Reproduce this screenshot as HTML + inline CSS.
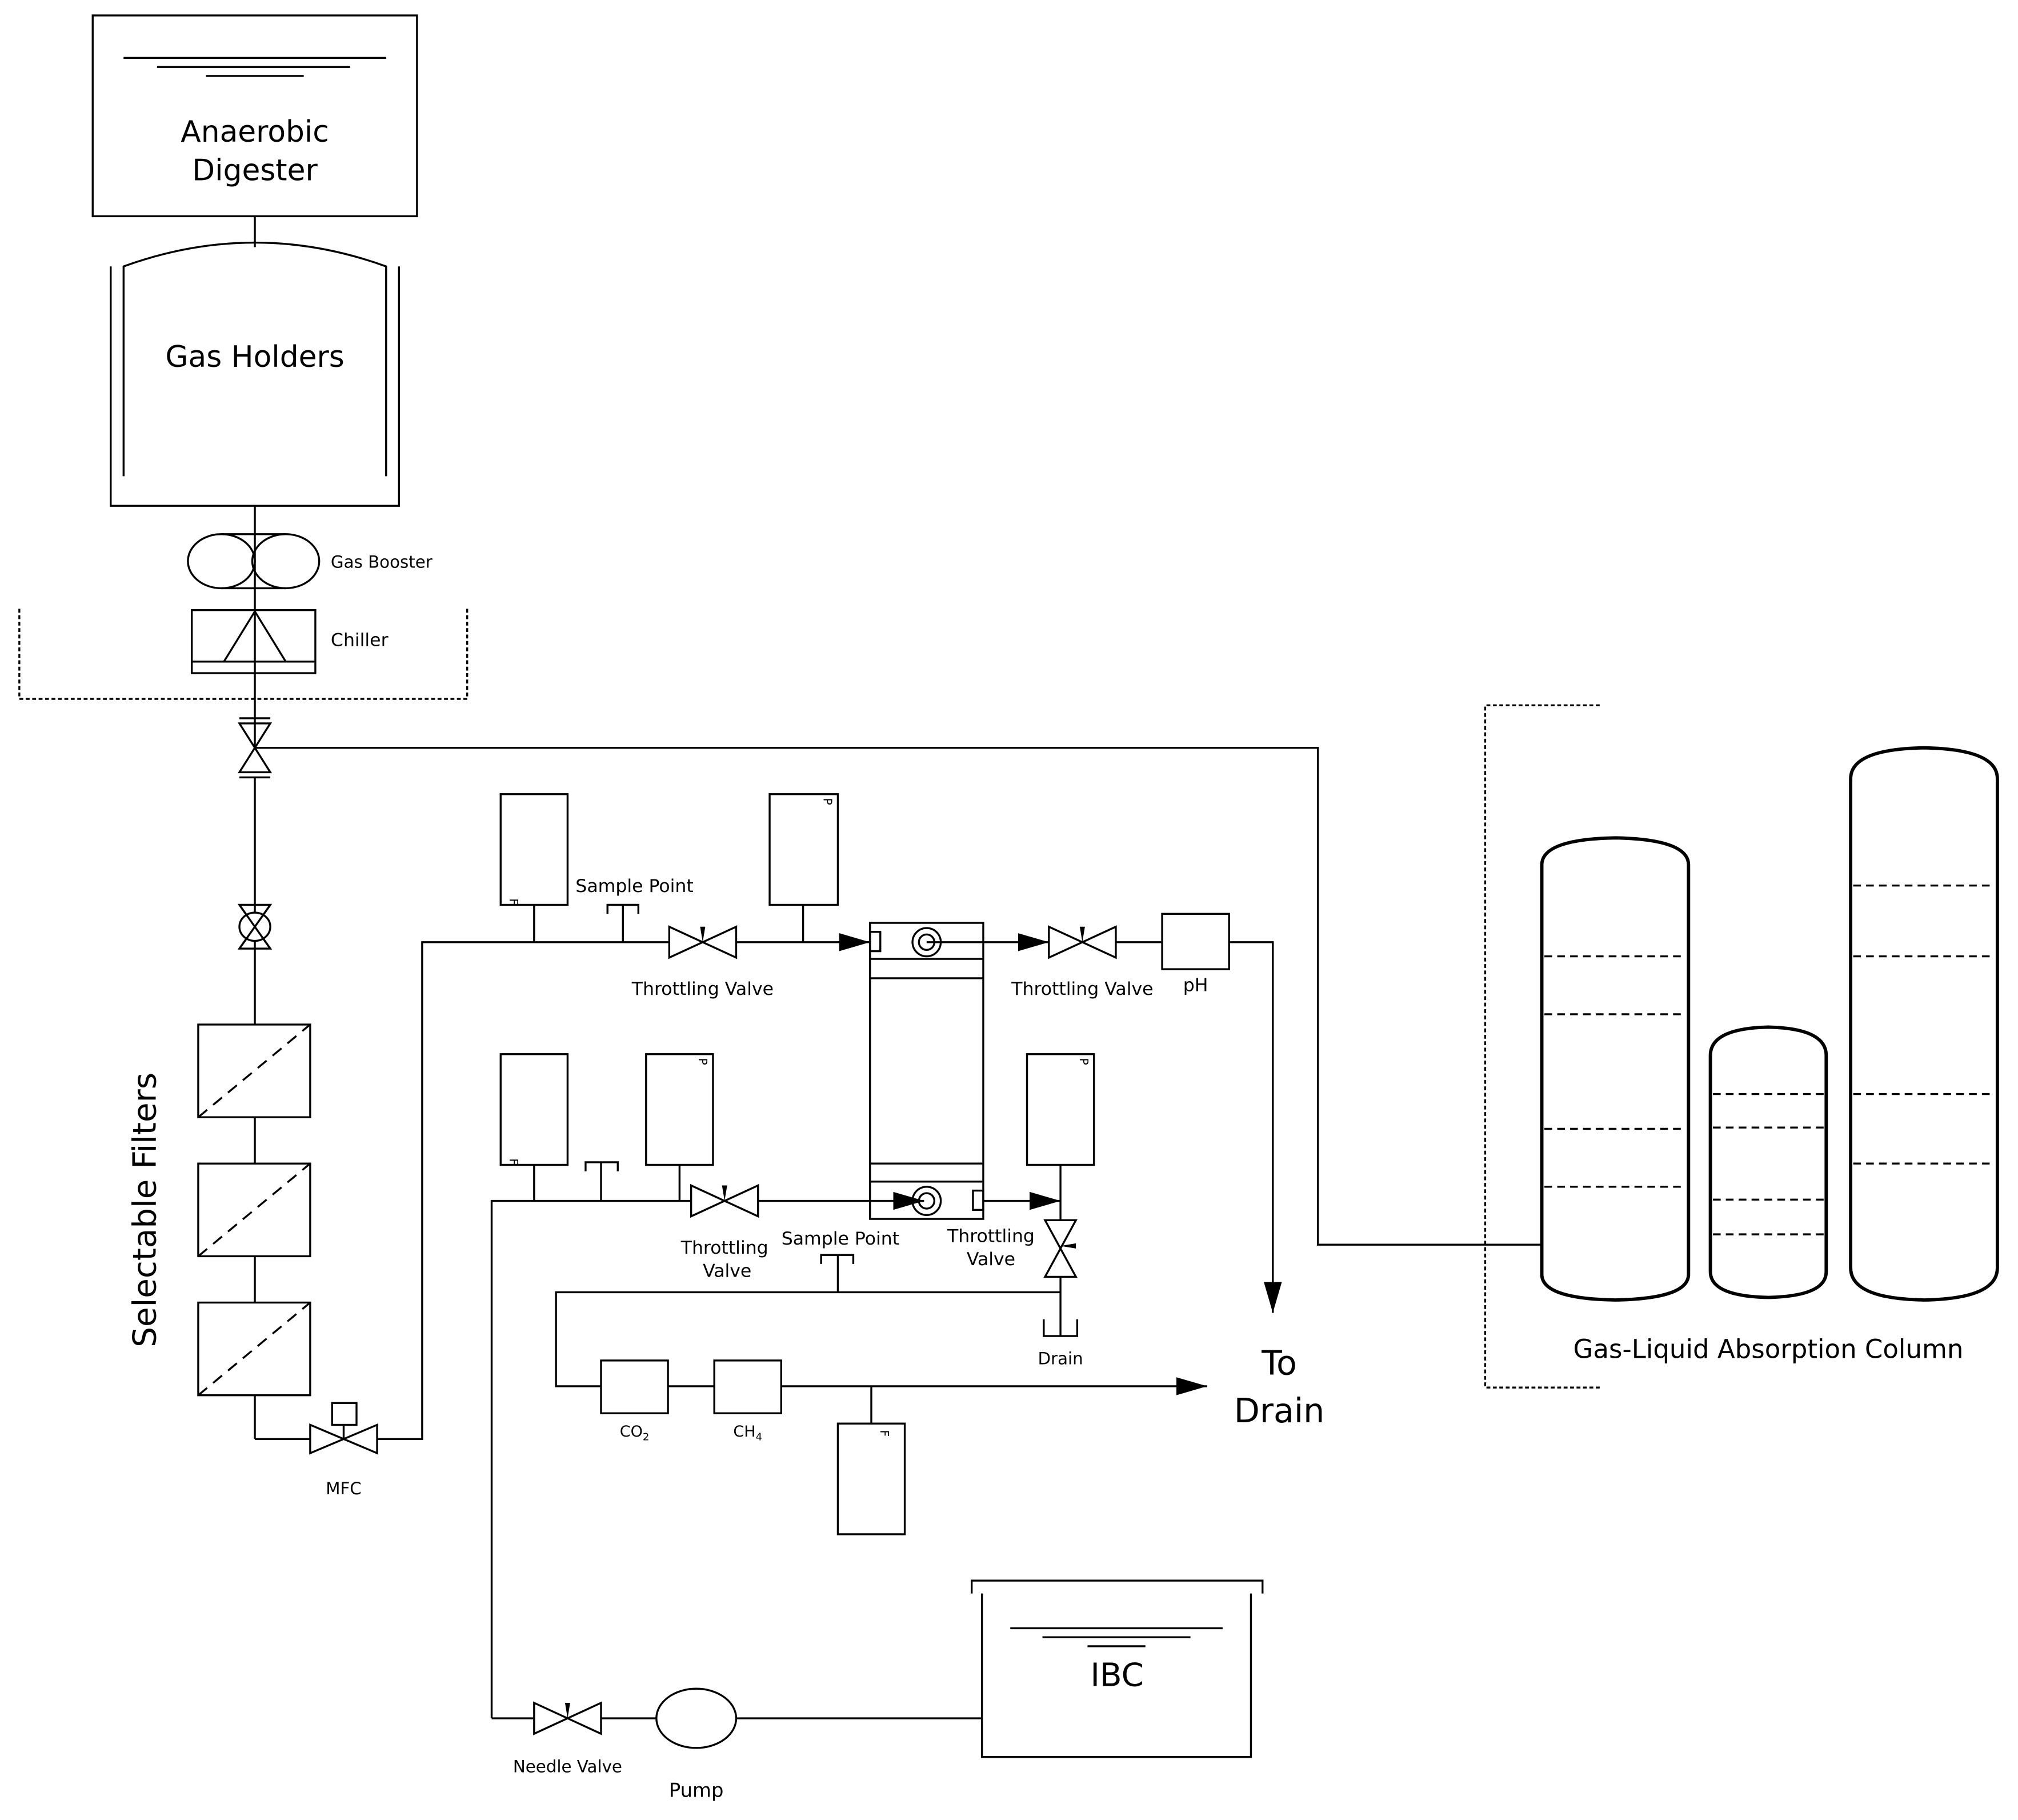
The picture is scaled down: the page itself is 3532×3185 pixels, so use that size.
<!DOCTYPE html>
<html><head><meta charset="utf-8"><style>
html,body{margin:0;padding:0;background:#fff}
svg{display:block}
text{font-family:"DejaVu Sans","Liberation Sans",sans-serif;fill:#000}
</style></head><body>
<svg width="3532" height="3185" viewBox="0 0 1568 1414" xmlns="http://www.w3.org/2000/svg">
<defs>
<marker id="ar" viewBox="0 0 24 14" refX="24" refY="7" markerWidth="24" markerHeight="14" markerUnits="userSpaceOnUse" orient="auto"><path d="M0,0 L24,7 L0,14 z" fill="#000"/></marker>
</defs>
<g fill="none" stroke="#000" stroke-width="1.5">
<rect x="72" y="12" width="252" height="156"/>
<line x1="96" y1="45" x2="300" y2="45"/><line x1="122" y1="52" x2="272" y2="52"/><line x1="160" y1="59" x2="236" y2="59"/>
<line x1="198" y1="168" x2="198" y2="192"/>
<path d="M86,207 V393 H310 V207"/>
<path d="M96,370 V207 Q198,170 300,207 V370"/>
<line x1="198" y1="393" x2="198" y2="581"/>
<ellipse cx="172" cy="436" rx="26" ry="21"/><ellipse cx="222" cy="436" rx="26" ry="21"/>
<line x1="172" y1="415" x2="222" y2="415"/><line x1="172" y1="457" x2="222" y2="457"/>
<rect x="149" y="474" width="96" height="49"/><line x1="149" y1="514" x2="245" y2="514"/>
<path d="M174,514 L198,475 L222,514"/>
<path d="M15,473 V543 H363 V473" stroke-dasharray="3,2"/>
<path d="M186,562 L210,562 L186,600 L210,600 Z"/>
<line x1="186" y1="558" x2="210" y2="558"/><line x1="186" y1="604" x2="210" y2="604"/>
<path d="M198,581 H1024 V967 H1198"/>
<line x1="198" y1="604" x2="198" y2="1118"/>
<path d="M186,703 L210,703 L186,737 L210,737 Z"/><ellipse cx="198" cy="720" rx="12" ry="11" fill="#fff"/>
<path d="M186,703 L210,737 M210,703 L186,737"/>
<rect x="154" y="796" width="87" height="72" fill="#fff"/><line x1="154" y1="868" x2="241" y2="796" stroke-dasharray="9,6"/>
<rect x="154" y="904" width="87" height="72" fill="#fff"/><line x1="154" y1="976" x2="241" y2="904" stroke-dasharray="9,6"/>
<rect x="154" y="1012" width="87" height="72" fill="#fff"/><line x1="154" y1="1084" x2="241" y2="1012" stroke-dasharray="9,6"/>
<path d="M198,1118 H241 M293,1118 H328 V732 H676" />
<path d="M241,1107 L293,1129 L293,1107 L241,1129 Z"/>
<rect x="258" y="1090" width="19" height="17"/><line x1="267" y1="1107" x2="267" y2="1118"/>
<rect x="389" y="617" width="52" height="86"/><line x1="415" y1="703" x2="415" y2="732"/>
<path d="M472,710 V703 H496 V710 M484,703 V732"/>
<path d="M520,720 L572,744 L572,720 L520,744 Z" fill="#fff"/>
<rect x="598" y="617" width="53" height="86"/><line x1="624" y1="703" x2="624" y2="732"/>
<line x1="651" y1="732" x2="676" y2="732" marker-end="url(#ar)"/>
<rect x="676" y="717" width="88" height="230"/>
<line x1="676" y1="745" x2="764" y2="745"/><line x1="676" y1="760" x2="764" y2="760"/>
<line x1="676" y1="904" x2="764" y2="904"/><line x1="676" y1="918" x2="764" y2="918"/>
<rect x="676" y="724" width="8" height="15"/>
<circle cx="720" cy="732" r="11"/><circle cx="720" cy="732" r="6"/>
<line x1="720" y1="732" x2="815" y2="732" marker-end="url(#ar)"/>
<path d="M815,720 L867,744 L867,720 L815,744 Z"/>
<line x1="867" y1="732" x2="903" y2="732"/>
<rect x="903" y="710" width="52" height="43"/>
<path d="M955,732 H989 V1020" marker-end="url(#ar)"/>
<path d="M382,1335 V933 H537"/>
<rect x="389" y="819" width="52" height="86"/><line x1="415" y1="905" x2="415" y2="933"/>
<path d="M455,910 V903 H480 V910 M467,903 V933"/>
<rect x="502" y="819" width="52" height="86"/><line x1="528" y1="905" x2="528" y2="933"/>
<path d="M537,921 L589,945 L589,921 L537,945 Z"/>
<line x1="589" y1="933" x2="718" y2="933" marker-end="url(#ar)"/>
<circle cx="720" cy="933" r="11"/><circle cx="720" cy="933" r="6"/>
<rect x="756" y="925" width="8" height="15"/>
<line x1="764" y1="933" x2="824" y2="933" marker-end="url(#ar)"/>
<rect x="798" y="819" width="52" height="86"/><line x1="824" y1="905" x2="824" y2="948"/>
<path d="M812,948 L836,948 L812,992 L836,992 Z"/>
<path d="M824,992 V1038 M811,1025 V1038 H837 V1025"/>
<path d="M824,1004 H432 V1077 H467"/>
<path d="M638,982 V975 H663 V982 M651,975 V1004"/>
<rect x="467" y="1057" width="52" height="41"/><line x1="519" y1="1077" x2="555" y2="1077"/>
<rect x="555" y="1057" width="52" height="41"/>
<line x1="607" y1="1077" x2="938" y2="1077" marker-end="url(#ar)"/>
<rect x="651" y="1106" width="52" height="86"/><line x1="677" y1="1077" x2="677" y2="1106"/>
<path d="M382,1335 H415 M467,1335 H510 M572,1335 H763"/>
<path d="M415,1323 L467,1347 L467,1323 L415,1347 Z"/>
<ellipse cx="541" cy="1335" rx="31" ry="23"/>
<path d="M755,1238 V1228 H981 V1238 M763,1238 V1365 H972 V1238"/>
<line x1="785" y1="1265" x2="950" y2="1265"/><line x1="810" y1="1272" x2="925" y2="1272"/><line x1="845" y1="1279" x2="890" y2="1279"/>
<path d="M1243,548 H1154 V1078 H1243" stroke-dasharray="3,2"/>
<g stroke-width="2.6">
<path d="M1198,672 Q1198,652 1255,651 Q1312,652 1312,672 V990 Q1312,1009 1255,1010 Q1198,1009 1198,990 Z"/>
<path d="M1329,820 Q1329,799 1374,798 Q1419,799 1419,820 V988 Q1419,1007 1374,1008 Q1329,1007 1329,988 Z"/>
<path d="M1438,605 Q1438,582 1495,581 Q1552,582 1552,605 V985 Q1552,1009 1495,1010 Q1438,1009 1438,985 Z"/>
</g>
<g stroke-dasharray="6,4">
<line x1="1200" y1="743" x2="1310" y2="743"/><line x1="1200" y1="788" x2="1310" y2="788"/><line x1="1200" y1="877" x2="1310" y2="877"/><line x1="1200" y1="922" x2="1310" y2="922"/>
<line x1="1331" y1="850" x2="1417" y2="850"/><line x1="1331" y1="876" x2="1417" y2="876"/><line x1="1331" y1="932" x2="1417" y2="932"/><line x1="1331" y1="959" x2="1417" y2="959"/>
<line x1="1440" y1="688" x2="1550" y2="688"/><line x1="1440" y1="743" x2="1550" y2="743"/><line x1="1440" y1="850" x2="1550" y2="850"/><line x1="1440" y1="904" x2="1550" y2="904"/>
</g>
</g>
<g fill="#000">
<path d="M544,720 L548,720 L546,732 Z"/><path d="M839,720 L843,720 L841,732 Z"/><path d="M561,921 L565,921 L563,933 Z"/><path d="M836,966 L836,970 L824,968 Z"/><path d="M439,1323 L443,1323 L441,1335 Z"/>
</g>
<g text-anchor="middle">
<text x="198" y="110" font-size="23">Anaerobic</text>
<text x="198" y="140" font-size="23">Digester</text>
<text x="198" y="285" font-size="23">Gas Holders</text>
<text x="267" y="1161" font-size="13">MFC</text>
<text x="493" y="693" font-size="14">Sample Point</text>
<text x="546" y="773" font-size="14">Throttling Valve</text>
<text x="841" y="773" font-size="14">Throttling Valve</text>
<text x="929" y="770" font-size="14">pH</text>
<text x="563" y="974" font-size="14">Throttling</text>
<text x="565" y="992" font-size="14">Valve</text>
<text x="653" y="967" font-size="14">Sample Point</text>
<text x="770" y="965" font-size="14">Throttling</text>
<text x="770" y="983" font-size="14">Valve</text>
<text x="824" y="1060" font-size="13">Drain</text>
<text x="493" y="1116" font-size="12">CO<tspan font-size="8" dy="3">2</tspan></text>
<text x="581" y="1116" font-size="12">CH<tspan font-size="8" dy="3">4</tspan></text>
<text x="994" y="1068" font-size="26">To</text>
<text x="994" y="1105" font-size="26">Drain</text>
<text x="441" y="1377" font-size="13">Needle Valve</text>
<text x="541" y="1396" font-size="15">Pump</text>
<text x="868" y="1310" font-size="25">IBC</text>
<text x="1374" y="1055" font-size="20">Gas-Liquid Absorption Column</text>
<text transform="translate(121,940) rotate(-90)" font-size="25">Selectable Filters</text>
</g>
<text x="257" y="441" font-size="13">Gas Booster</text>
<text x="257" y="502" font-size="14">Chiller</text>
<g font-size="9">
<text transform="translate(396,698) rotate(90)">F</text>
<text transform="translate(396,900) rotate(90)">F</text>
<text transform="translate(684,1111) rotate(90)">F</text>
<text transform="translate(640,620) rotate(90)">P</text>
<text transform="translate(543,822) rotate(90)">P</text>
<text transform="translate(839,822) rotate(90)">P</text>
</g>
</svg>
</body></html>
